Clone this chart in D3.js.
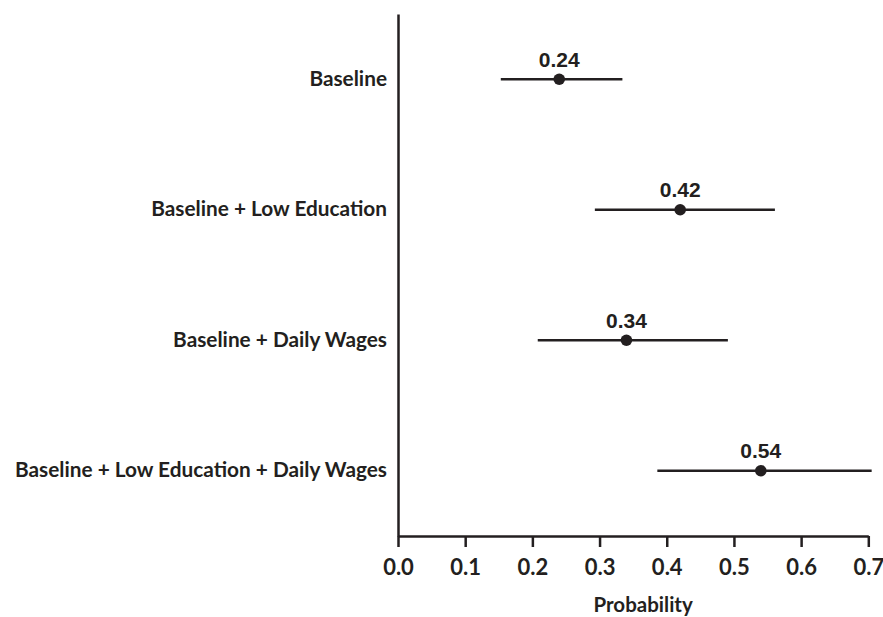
<!DOCTYPE html>
<html>
<head>
<meta charset="utf-8">
<script src="https://cdn.jsdelivr.net/npm/d3@7"></script>
<style>
  html, body { margin: 0; padding: 0; background: #fff; }
  svg { display: block; }
</style>
</head>
<body>
<svg id="chart" width="883" height="617"></svg>
<script>
// Predicted probabilities with confidence intervals
const categories = [
  "Baseline",
  "Baseline + Low Education",
  "Baseline + Daily Wages",
  "Baseline + Low Education + Daily Wages"
];
const estimates = [0.24, 0.42, 0.34, 0.54];
const lowerBounds = [0.153, 0.293, 0.208, 0.386];
const upperBounds = [0.334, 0.561, 0.491, 0.705];
const xTicks = [0.0, 0.1, 0.2, 0.3, 0.4, 0.5, 0.6, 0.7];
const xTitle = "Probability";

const rows = categories.map((c, i) => ({
  cat: c, est: estimates[i], lo: lowerBounds[i], hi: upperBounds[i]
}));

const ink = "#231f20";
const labelFont = "Lato, 'Open Sans', sans-serif";
const valueFont = "'Liberation Sans', Arial, sans-serif";

const svg = d3.select("#chart");
const margin = { left: 398, right: 15, top: 14, bottom: 81 };
const W = 883, H = 617;

const x = d3.scaleLinear().domain([0, 0.7]).range([margin.left, 868.3]);
const y = d3.scaleBand().domain(categories).range([margin.top, H - margin.bottom]).padding(0);

// x axis
const xAxis = svg.append("g")
  .attr("transform", `translate(0,${H - margin.bottom})`)
  .call(d3.axisBottom(x).tickValues(xTicks).tickFormat(d3.format(".1f")).tickSize(11).tickPadding(12).tickSizeOuter(0));
xAxis.select(".domain").attr("stroke", ink).attr("stroke-width", 2.5);
xAxis.selectAll(".tick line").attr("stroke", ink).attr("stroke-width", 2.5);
xAxis.selectAll(".tick text")
  .attr("fill", ink).attr("font-family", labelFont).attr("font-weight", 700).attr("font-size", 22);

// y axis
const yAxis = svg.append("g")
  .attr("transform", `translate(${margin.left},0)`)
  .call(d3.axisLeft(y).tickSize(0).tickPadding(11));
yAxis.select(".domain").attr("stroke", ink).attr("stroke-width", 2.5);
yAxis.selectAll(".tick text")
  .attr("fill", ink).attr("font-family", labelFont).attr("font-weight", 700).attr("font-size", 20.8);

// axis title, sitting slightly right of the axis midpoint
svg.append("text")
  .attr("x", (x(0) + x(0.7)) / 2 + 10)
  .attr("y", 612)
  .attr("text-anchor", "middle")
  .attr("fill", ink).attr("font-family", labelFont).attr("font-weight", 700).attr("font-size", 20.5)
  .text(xTitle);

const cy = d => y(d.cat) + y.bandwidth() / 2;

// interval whiskers
svg.append("g").selectAll("line").data(rows).join("line")
  .attr("x1", d => x(d.lo)).attr("x2", d => x(d.hi))
  .attr("y1", cy).attr("y2", cy)
  .attr("stroke", ink).attr("stroke-width", 2.5);

// point estimates
svg.append("g").selectAll("circle").data(rows).join("circle")
  .attr("cx", d => x(d.est)).attr("cy", cy).attr("r", 5.8)
  .attr("fill", ink);

// value labels
svg.append("g").selectAll("text").data(rows).join("text")
  .attr("x", d => x(d.est)).attr("y", d => cy(d) - 12.5)
  .attr("text-anchor", "middle")
  .attr("fill", ink).attr("font-family", valueFont).attr("font-weight", 700).attr("font-size", 21)
  .text(d => d3.format(".2f")(d.est));
</script>
</body>
</html>
